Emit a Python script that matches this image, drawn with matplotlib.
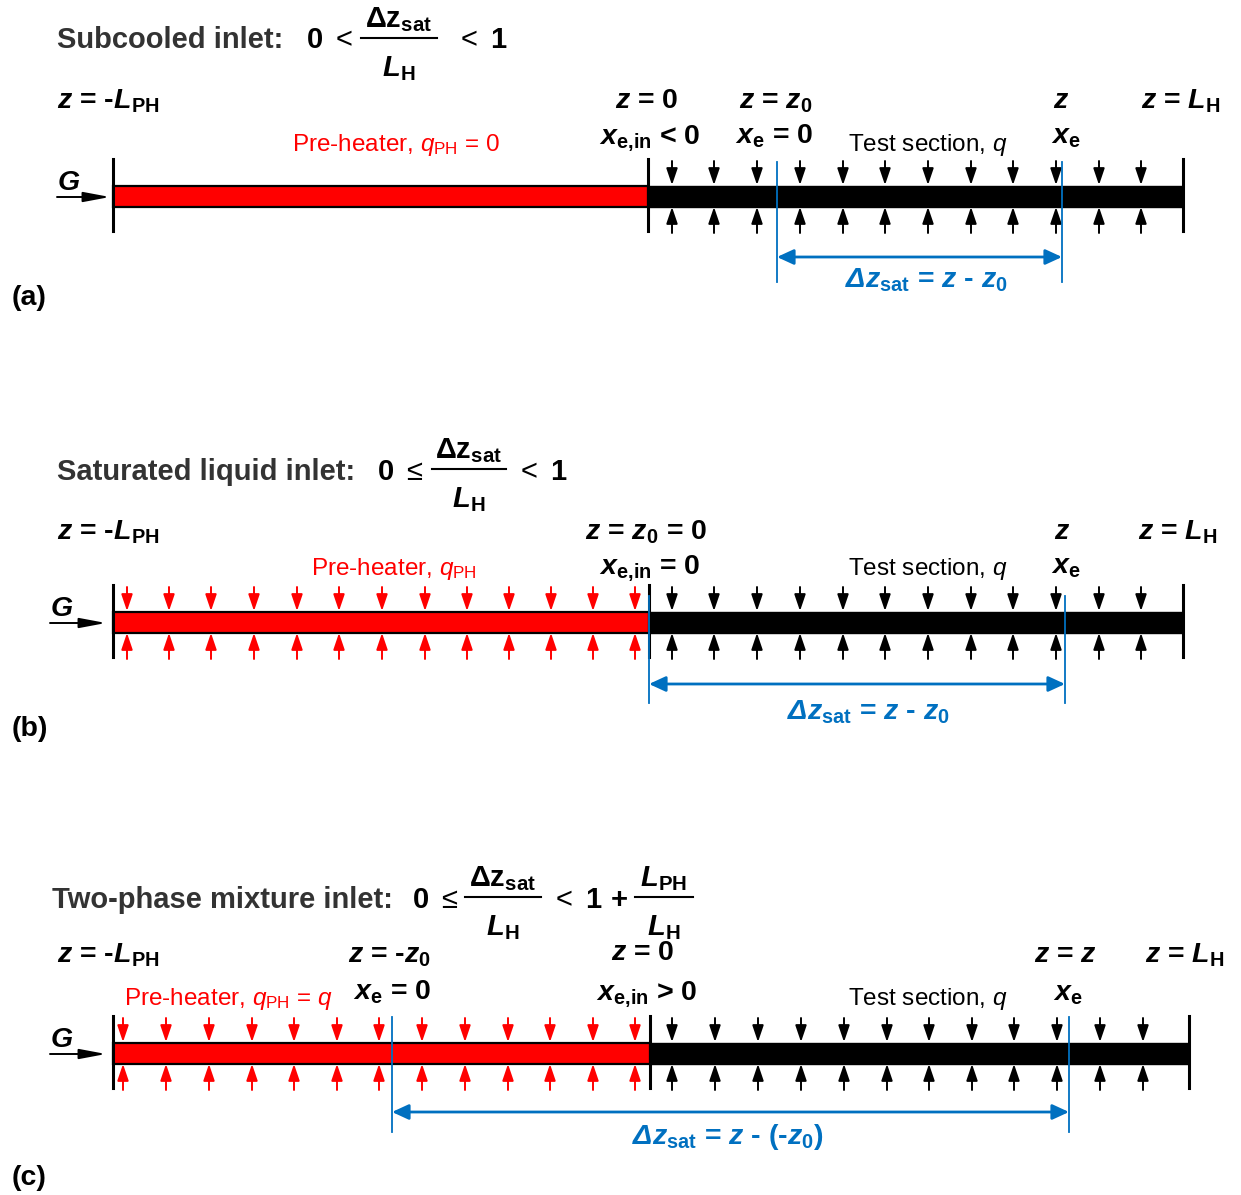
import matplotlib
matplotlib.use('Agg')
import matplotlib.pyplot as plt
from matplotlib.patches import Rectangle

plt.rcParams['font.family'] = ['Liberation Sans', 'DejaVu Sans']
plt.rcParams['mathtext.fontset'] = 'custom'
plt.rcParams['mathtext.rm'] = 'Liberation Sans'
plt.rcParams['mathtext.it'] = 'Liberation Sans:italic'
plt.rcParams['mathtext.bf'] = 'Liberation Sans:bold'
plt.rcParams['mathtext.bfit'] = 'Liberation Sans:italic:bold'

RED = '#ff0000'
BLUE = '#0070c0'
GREY = '#333333'

# geometry of the three tubes, pixel coordinates with y pointing down
tube_y = [196, 622, 1053]
tube_start = [113, 113, 113]
heater_end = [648, 649, 650]
tube_end = [1183, 1183, 1189]
sat_start = [777, 649, 392]
sat_end = [1062, 1065, 1069]
sat_arrow_y = [257, 684, 1112]
sat_line_top = [162, 596, 1017]
sat_line_bottom = [282, 703, 1132]

test_arrows = [
    [672, 714, 757, 800, 843, 885, 928, 971, 1013, 1056, 1099, 1141],
    [672, 714, 757, 800, 843, 885, 928, 971, 1013, 1056, 1099, 1141],
    [672, 715, 758, 801, 844, 887, 929, 972, 1014, 1057, 1100, 1143],
]
heater_arrows = [
    [],
    [127, 169, 211, 254, 297, 339, 382, 425, 467, 509, 551, 593, 635],
    [123, 166, 209, 252, 294, 337, 379, 422, 465, 508, 550, 593, 635],
]
panel_names = ['(a)', '(b)', '(c)']
panel_name_y = [305, 736, 1185]

fig = plt.figure(figsize=(12.41, 11.95), dpi=100)
ax = fig.add_axes([0, 0, 1, 1])
ax.set_xlim(0, 1241)
ax.set_ylim(1195, 0)
ax.axis('off')


def txt(x, y, s, size=20.5, weight='bold', color='black', ha='left'):
    ax.text(x, y, s, fontsize=size, fontweight=weight, color=color,
            ha=ha, va='baseline')


def arrow(x0, y0, x1, y1, color, lw=1.4,
          style='-|>,head_length=0.5,head_width=0.17', ms=20, z=4):
    ax.annotate('', xy=(x1, y1), xytext=(x0, y0),
                arrowprops=dict(arrowstyle=style, color=color, lw=lw,
                                shrinkA=0, shrinkB=0, mutation_scale=ms),
                zorder=z)


def fraction(xc, ybar, half, num, den):
    ax.plot([xc - half, xc + half], [ybar, ybar], color='black', lw=1.5)
    txt(xc, ybar - 11, num, size=21, ha='center')
    txt(xc, ybar + 38, den, size=21, ha='center')


DZ = r'$\mathbf{\Delta z}_{\mathbf{sat}}$'
LH = r'$\mathbfit{L}_{\mathbf{H}}$'
LPH = r'$\mathbfit{L}_{\mathbf{PH}}$'
Z_LPH = r'$\mathbfit{z}$ = -$\mathbfit{L}_{\mathbf{PH}}$'
Z_LH = r'$\mathbfit{z}$ = $\mathbfit{L}_{\mathbf{H}}$'
ZZ = r'$\mathbfit{z}$'
XE = r'$\mathbfit{x}_{\mathbf{e}}$'
XEIN = r'$\mathbfit{x}_{\mathbf{e{,}in}}$'
TEST = r'Test section, $\mathit{q}$'

for i in range(3):
    yc = tube_y[i]
    x0, xh, x1 = tube_start[i], heater_end[i], tube_end[i]

    # tube: pre-heater (red) followed by the test section (black)
    ax.add_patch(Rectangle((x0, yc - 10.5), xh - x0, 21, facecolor=RED,
                           edgecolor='black', lw=1.6, zorder=2))
    ax.add_patch(Rectangle((xh, yc - 10.5), x1 - xh, 21, facecolor='black',
                           edgecolor='black', lw=1.0, zorder=2))
    for xb in (x0, xh, x1):
        ax.plot([xb, xb], [yc - 37, yc + 35], color='black', lw=2.2, zorder=3)

    # wall heat flux arrows
    for x in test_arrows[i]:
        arrow(x, yc - 35, x, yc - 11, 'black')
        arrow(x, yc + 37, x, yc + 11, 'black')
    for x in heater_arrows[i]:
        arrow(x, yc - 35, x, yc - 11, RED)
        arrow(x, yc + 37, x, yc + 11, RED)

    # inlet mass flux
    gx = 57 if i == 0 else 50
    txt(gx, yc - 6, r'$\mathbfit{G}$', size=20.5)
    arrow(gx, yc + 1, 110 if i == 0 else 106, yc + 1, 'black', lw=1.4,
          style='-|>,head_length=0.8,head_width=0.15')

    # saturation length
    for xs in (sat_start[i], sat_end[i]):
        ax.plot([xs, xs], [sat_line_top[i], sat_line_bottom[i]],
                color=BLUE, lw=1.3, zorder=5)
    arrow(sat_start[i], sat_arrow_y[i], sat_end[i], sat_arrow_y[i], BLUE,
          lw=2.0, style='<|-|>,head_length=0.5,head_width=0.23', z=5)

    txt(12, panel_name_y[i], panel_names[i], size=20.5)

# (a) subcooled inlet
txt(57, 48, 'Subcooled inlet:', size=21, color=GREY)
txt(306, 48, r'0 $\mathrm{<}$', size=21)
fraction(399, 38, 38, DZ, LH)
txt(456, 48, r'$\mathrm{<}$ 1', size=21)
txt(57, 108, Z_LPH)
txt(647, 108, r'$\mathbfit{z}$ = 0', ha='center')
txt(776, 108, r'$\mathbfit{z}$ = $\mathbfit{z}_{\mathbf{0}}$', ha='center')
txt(1061, 108, ZZ, ha='center')
txt(1181, 108, Z_LH, ha='center')
txt(650, 143, XEIN + ' < 0', ha='center')
txt(774, 143, XE + ' = 0', ha='center')
txt(928, 151, TEST, size=17.5, weight='normal', ha='center')
txt(1066, 143, XE, ha='center')
txt(396, 151, r'Pre-heater, $\mathit{q}_{\mathrm{PH}}$ = 0', size=17.5,
    weight='normal', color=RED, ha='center')
txt(926, 287, r'$\mathbfit{\Delta z}_{\mathbf{sat}}$ = $\mathbfit{z}$ - $\mathbfit{z}_{\mathbf{0}}$',
    color=BLUE, ha='center')

# (b) saturated liquid inlet
txt(57, 480, 'Saturated liquid inlet:', size=21, color=GREY)
txt(377, 480, r'0 $\mathrm{\leq}$', size=21)
fraction(469, 469, 37, DZ, LH)
txt(516, 480, r'$\mathrm{<}$ 1', size=21)
txt(57, 539, Z_LPH)
txt(646, 539, r'$\mathbfit{z}$ = $\mathbfit{z}_{\mathbf{0}}$ = 0', ha='center')
txt(1062, 539, ZZ, ha='center')
txt(1178, 539, Z_LH, ha='center')
txt(650, 573, XEIN + ' = 0', ha='center')
txt(928, 575, TEST, size=17.5, weight='normal', ha='center')
txt(1066, 573, XE, ha='center')
txt(394, 575, r'Pre-heater, $\mathit{q}_{\mathrm{PH}}$', size=17.5,
    weight='normal', color=RED, ha='center')
txt(868, 719, r'$\mathbfit{\Delta z}_{\mathbf{sat}}$ = $\mathbfit{z}$ - $\mathbfit{z}_{\mathbf{0}}$',
    color=BLUE, ha='center')

# (c) two-phase mixture inlet
txt(52, 908, 'Two-phase mixture inlet:', size=21, color=GREY)
txt(412, 908, r'0 $\mathrm{\leq}$', size=21)
fraction(503, 897, 38, DZ, LH)
txt(551, 908, r'$\mathrm{<}$ 1 +', size=21)
fraction(664, 897, 29, LPH, LH)
txt(57, 962, Z_LPH)
txt(390, 962, r'$\mathbfit{z}$ = -$\mathbfit{z}_{\mathbf{0}}$', ha='center')
txt(643, 960, r'$\mathbfit{z}$ = 0', ha='center')
txt(1065, 962, r'$\mathbfit{z}$ = $\mathbfit{z}$', ha='center')
txt(1185, 962, Z_LH, ha='center')
txt(392, 999, XE + ' = 0', ha='center')
txt(647, 999, XEIN + ' > 0', ha='center')
txt(928, 1005, TEST, size=17.5, weight='normal', ha='center')
txt(1068, 1000, XE, ha='center')
txt(228, 1005, r'Pre-heater, $\mathit{q}_{\mathrm{PH}}$ = $\mathit{q}$', size=17.5,
    weight='normal', color=RED, ha='center')
txt(728, 1144, r'$\mathbfit{\Delta z}_{\mathbf{sat}}$ = $\mathbfit{z}$ - (-$\mathbfit{z}_{\mathbf{0}}$)',
    color=BLUE, ha='center')

fig.savefig('out.png', dpi=100)
